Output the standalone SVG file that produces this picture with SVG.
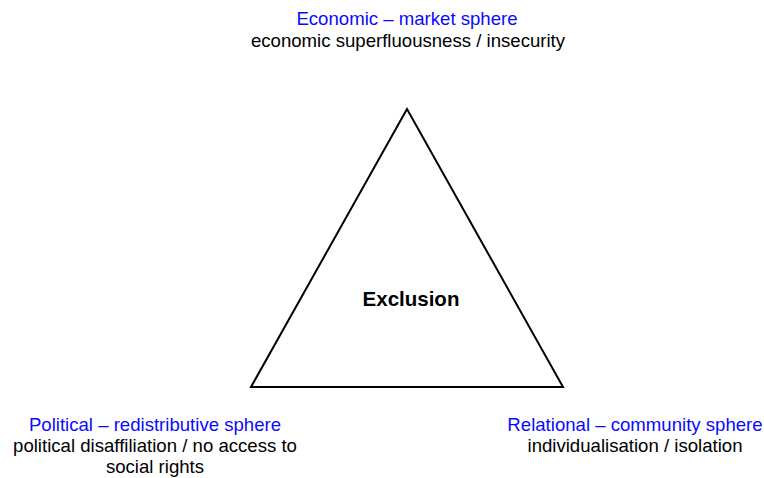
<svg xmlns="http://www.w3.org/2000/svg" width="764" height="478" viewBox="0 0 764 478">
  <style>
    text { font-family: "Liberation Sans", Arial, sans-serif; font-size: 18.6px; text-anchor: middle; }
    .head { fill: #0a0aff; }
    .body { fill: #000000; }
    .core { font-size: 20.5px; font-weight: bold; fill: #000000; }
    .edge { fill: none; stroke: #000000; stroke-width: 2; stroke-linejoin: miter; }
  </style>
  <rect width="764" height="478" fill="#ffffff"/>

  <g id="connectors">
    <polygon class="edge" points="407,109 251,387 563,387"/>
  </g>

  <g id="node-exclusion">
    <text class="core" x="411" y="306">Exclusion</text>
  </g>

  <g id="node-economic">
    <text class="head" x="407" y="25">Economic – market sphere</text>
    <text class="body" x="408" y="47">economic superfluousness / insecurity</text>
  </g>

  <g id="node-political">
    <text class="head" x="155" y="431">Political – redistributive sphere</text>
    <text class="body" x="155" y="452">political disaffiliation / no access to</text>
    <text class="body" x="155" y="473">social rights</text>
  </g>

  <g id="node-relational">
    <text class="head" x="635" y="431">Relational – community sphere</text>
    <text class="body" x="635" y="452">individualisation / isolation</text>
  </g>
</svg>
